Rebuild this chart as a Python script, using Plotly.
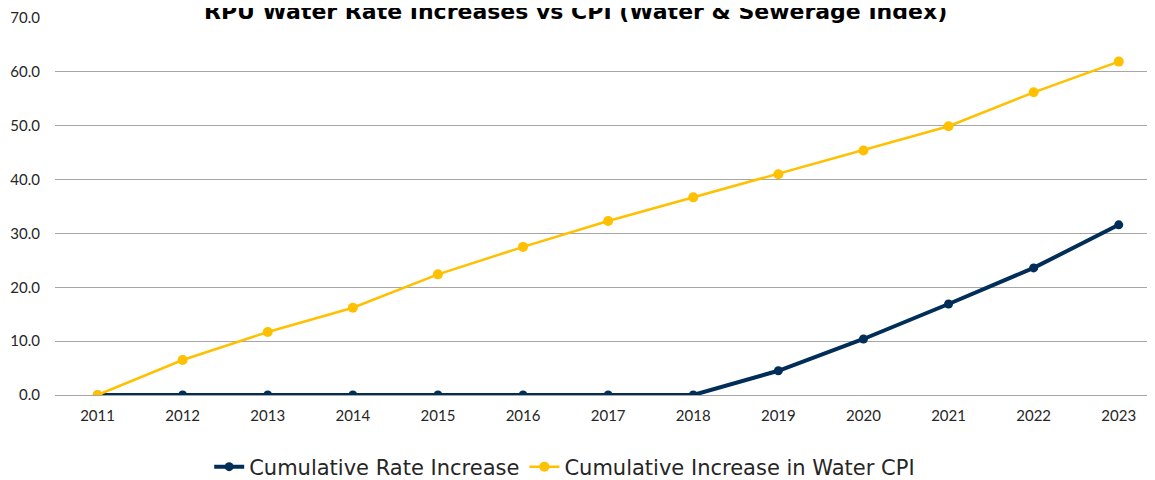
import plotly.graph_objects as go

years = ["2011", "2012", "2013", "2014", "2015", "2016", "2017", "2018", "2019", "2020", "2021", "2022", "2023"]
rate_increase = [0.0, 0.0, 0.0, 0.0, 0.0, 0.0, 0.0, 0.0, 4.5, 10.4, 16.9, 23.6, 31.6]
water_cpi = [0.0, 6.5, 11.7, 16.2, 22.4, 27.5, 32.3, 36.7, 41.0, 45.4, 49.9, 56.2, 61.9]
title_text = "RPU Water Rate Increases vs CPI (Water & Sewerage Index)"

NAVY = "#002e58"
GOLD = "#ffc000"
FONT = "Lato"

fig = go.Figure()
fig.add_trace(go.Scatter(
    x=years, y=rate_increase, name="Cumulative Rate Increase",
    mode="lines+markers", line=dict(color=NAVY, width=4),
    marker=dict(color=NAVY, size=9),
))
fig.add_trace(go.Scatter(
    x=years, y=water_cpi, name="Cumulative Increase in Water CPI",
    mode="lines+markers", line=dict(color=GOLD, width=2.5),
    marker=dict(color=GOLD, size=10),
))

fig.add_annotation(
    text="<b>" + title_text + "</b>", xref="paper", yref="paper",
    x=(567 - 47) / 1108, y=1 + 7 / 377, xanchor="center", yanchor="middle",
    showarrow=False, font=dict(size=22, color="#000000", family="DejaVu Sans"),
)

fig.update_layout(
    width=1155, height=480,
    margin=dict(l=47, r=0, t=10, b=93),
    paper_bgcolor="white", plot_bgcolor="white",
    font=dict(family=FONT, color="#262626", size=15),
    xaxis=dict(type="category", range=[-0.5, 12.52], showgrid=False, automargin=False,
               showline=False, ticks="", tickfont=dict(size=15), zeroline=False,
               ticklabelstandoff=10),
    yaxis=dict(range=[0, 70], dtick=10, tickformat=".1f", showgrid=True, automargin=False,
               gridcolor="#a6a6a6", gridwidth=1, zeroline=True, zerolinecolor="#a6a6a6",
               zerolinewidth=1, showline=False, ticks="", ticklabelstandoff=14,
               tickfont=dict(size=15)),
    legend=dict(orientation="h", x=0.460, xanchor="center", y=-0.191, yanchor="middle",
                font=dict(size=21, color="#262626", family="DejaVu Sans"), itemwidth=30,
                traceorder="normal"),
    showlegend=True,
)

fig.write_html("out.html")
